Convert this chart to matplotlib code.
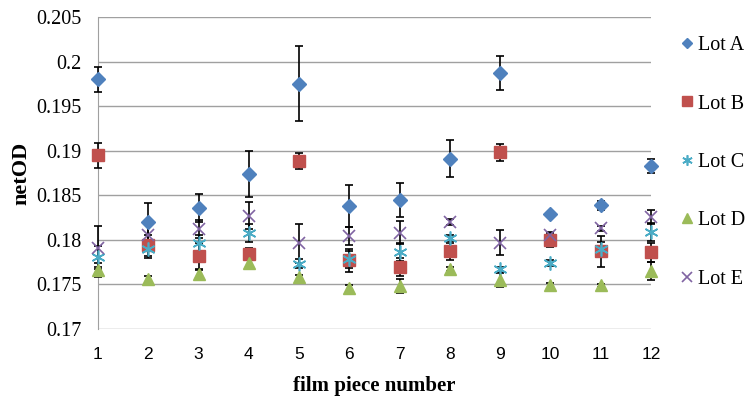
import matplotlib

matplotlib.use("Agg")
import matplotlib.pyplot as plt
from matplotlib.lines import Line2D

pieces = [1, 2, 3, 4, 5, 6, 7, 8, 9, 10, 11, 12]

lot_a = [0.1980, 0.1820, 0.1836, 0.1874, 0.1975, 0.1838, 0.1845, 0.1891, 0.1987, 0.1829, 0.1839, 0.1883]
lot_a_err = [0.0014, 0.0021, 0.0016, 0.0026, 0.0042, 0.0024, 0.0019, 0.0021, 0.0019, 0.0002, 0.0005, 0.0008]
lot_b = [0.1895, 0.1794, 0.1782, 0.1784, 0.1888, 0.1777, 0.1770, 0.1787, 0.1898, 0.1800, 0.1787, 0.1786]
lot_b_err = [0.0014, 0.0012, 0.0015, 0.0007, 0.0009, 0.0013, 0.0010, 0.0010, 0.0010, 0.0008, 0.0017, 0.0011]
lot_c = [0.1781, 0.1790, 0.1796, 0.1808, 0.1773, 0.1778, 0.1786, 0.1802, 0.1767, 0.1774, 0.1790, 0.1809]
lot_c_err = [0.0012, 0.0010, 0.0010, 0.0010, 0.0005, 0.0010, 0.0010, 0.0003, 0.0003, 0.0003, 0.0008, 0.0010]
lot_d = [0.1766, 0.1756, 0.1762, 0.1774, 0.1758, 0.1746, 0.1748, 0.1767, 0.1755, 0.1749, 0.1749, 0.1765]
lot_d_err = [0.0008, 0.0003, 0.0004, 0.0004, 0.0003, 0.0003, 0.0008, 0.0002, 0.0008, 0.0003, 0.0002, 0.0010]
lot_e = [0.1791, 0.1805, 0.1812, 0.1827, 0.1796, 0.1804, 0.1808, 0.1820, 0.1797, 0.1806, 0.1813, 0.1826]
lot_e_err = [0.0024, 0.0012, 0.0010, 0.0015, 0.0022, 0.0010, 0.0013, 0.0003, 0.0014, 0.0003, 0.0003, 0.0008]

y_ticks = [0.17, 0.175, 0.18, 0.185, 0.19, 0.195, 0.2, 0.205]
y_tick_labels = ["0.17", "0.175", "0.18", "0.185", "0.19", "0.195", "0.2", "0.205"]

series = [
    ("Lot A", lot_a, lot_a_err, "D", "#4F81BD", 7, 1.0),
    ("Lot B", lot_b, lot_b_err, "s", "#C0504D", 9, 1.0),
    ("Lot C", lot_c, lot_c_err, (6, 2, 0), "#4BACC6", 10, 1.2),
    ("Lot D", lot_d, lot_d_err, "^", "#9BBB59", 9, 1.0),
    ("Lot E", lot_e, lot_e_err, "x", "#8064A2", 9, 1.2),
]

serif = "Liberation Serif"
sans = "Liberation Sans"

fig = plt.figure(figsize=(7.46, 3.98), dpi=100)
ax = fig.add_axes([98 / 746, 1 - 329 / 398, (651 - 98) / 746, (329 - 17) / 398])

handles = []
for label, vals, errs, marker, color, size, mew in series:
    ax.errorbar(pieces, vals, yerr=errs, fmt="none", ecolor="black",
                elinewidth=1.2, capsize=3, capthick=1.2, zorder=3, clip_on=False)
    ax.plot(pieces, vals, linestyle="none", marker=marker, color=color,
            markersize=size, markeredgewidth=mew, zorder=4, clip_on=False)
    handles.append(Line2D([], [], linestyle="none", marker=marker, color=color,
                          markersize=size * 0.75, markeredgewidth=mew, label=label))

ax.set_xlim(1, 12)
ax.set_ylim(0.17, 0.205)
ax.set_xticks(pieces)
ax.set_xticklabels([str(p) for p in pieces], fontfamily=sans, fontsize=12.5)
ax.set_yticks(y_ticks)
ax.set_yticklabels(y_tick_labels, fontfamily=serif, fontsize=14.5)
ax.tick_params(axis="both", length=0)
ax.tick_params(axis="y", pad=12)
ax.tick_params(axis="x", pad=13)
ax.yaxis.grid(True, color="#A0A0A0", linewidth=1)
ax.set_axisbelow(True)
for side in ["top", "right", "bottom"]:
    ax.spines[side].set_visible(False)
ax.spines["left"].set_color("#A0A0A0")

ax.set_xlabel("film piece number", fontfamily=serif, fontweight="bold",
              fontsize=15, labelpad=10)
ax.set_ylabel("netOD", fontfamily=serif, fontweight="bold", fontsize=16,
              labelpad=3)

fig.legend(handles=handles, loc="upper left", bbox_to_anchor=(673 / 746, 1 - 28 / 398),
           frameon=False, prop={"family": serif, "size": 14.5},
           labelspacing=1.95, handlelength=0.6, handletextpad=0.25, borderaxespad=0)

fig.savefig("out.png", dpi=100)
